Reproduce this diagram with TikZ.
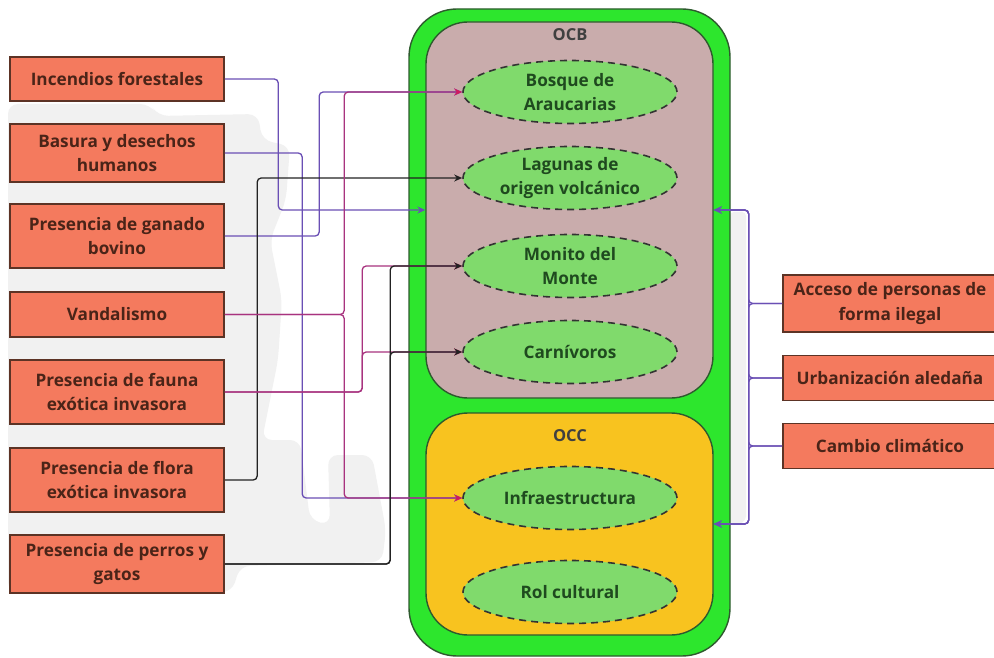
\documentclass[tikz,border=0pt]{standalone}
\usepackage{fontspec}
\setmainfont{Open Sans}
\usetikzlibrary{shapes.geometric,arrows.meta}

\definecolor{outergreen}{HTML}{2DE62D}
\definecolor{framestroke}{HTML}{2E5A2E}
\definecolor{ocbfill}{HTML}{C9ACAC}
\definecolor{occfill}{HTML}{F8C31F}
\definecolor{ovalfill}{HTML}{80DA6C}
\definecolor{ovaltext}{HTML}{1F4A1F}
\definecolor{threatfill}{HTML}{F47A5E}
\definecolor{threatline}{HTML}{5C3325}
\definecolor{threattext}{HTML}{4A2418}
\definecolor{linkpurple}{HTML}{6A4FB5}
\definecolor{linkmagenta}{HTML}{A8337F}
\definecolor{tipmagenta}{HTML}{D01A5E}
\definecolor{linkblack}{HTML}{222222}
\definecolor{bgshade}{HTML}{F1F1F1}

\tikzset{
  threat/.style={draw=threatline, line width=1.6pt, fill=threatfill,
    text=threattext, font=\fontsize{17.2}{24.5}\selectfont\bfseries,
    align=center, minimum width=214pt, inner sep=0pt},
  oval/.style={ellipse, draw=black!80, dashed, dash pattern=on 7pt off 5pt,
    line width=1.6pt, fill=ovalfill, text=ovaltext,
    font=\fontsize{17.2}{24}\selectfont\bfseries, align=center,
    minimum width=214pt, minimum height=63pt, inner sep=0pt},
  zone/.style={draw=framestroke, line width=1.4pt, inner sep=0pt},
  zonetitle/.style={text=black!75, font=\fontsize{16.5}{18}\selectfont\bfseries},
  link/.style={line width=1.3pt, rounded corners=4pt},
  plink/.style={link, draw=linkpurple, -{Stealth[length=8pt,width=7pt]}},
  mlink/.style={link, draw=linkmagenta, -{Stealth[length=8pt,width=7pt,color=tipmagenta]}},
  klink/.style={link, draw=linkblack, -{Stealth[length=8pt,width=7pt]}}
}

\begin{document}
\begin{tikzpicture}[x=1pt,y=-1pt]
\useasboundingbox (0,0) rectangle (994,658);
\fill[white] (0,0) rectangle (994,658);

% faint grey backdrop shape
\fill[bgshade, rounded corners=10pt]
  (8,104) -- (150,104) -- (158,116) -- (258,114) -- (262,140)
  -- (290,146) -- (286,200) -- (270,240) -- (282,300) -- (278,360)
  -- (262,440) -- (300,440) -- (310,520) -- (330,525) -- (328,455)
  -- (372,455) -- (386,530) -- (382,562) -- (240,566) -- (232,592)
  -- (8,592) -- cycle;
\fill[bgshade, rounded corners=4pt] (730,212) -- (746,212) -- (746,520) -- (738,525) -- (730,525) -- cycle;

% containers
\node[zone, fill=outergreen, rounded corners=48pt,
      minimum width=321pt, minimum height=647pt] (frame) at (569.5,332.5) {};
\node[zone, fill=ocbfill, rounded corners=42pt,
      minimum width=287pt, minimum height=376pt] (ocb) at (569.5,210) {};
\node[zone, fill=occfill, rounded corners=42pt,
      minimum width=287pt, minimum height=222pt] (occ) at (569.5,524) {};
\node[zonetitle] (ocbtitle) at (570,35) {OCB};
\node[zonetitle] (occtitle) at (570,436) {OCC};

% conservation targets
\node[oval] (bosque) at (570,92) {Bosque de\\Araucarias};
\node[oval] (lagunas) at (570,178) {Lagunas de\\origen volcánico};
\node[oval] (monito) at (570,266) {Monito del\\Monte};
\node[oval] (carn) at (570,352) {Carnívoros};
\node[oval] (infra) at (570,498) {Infraestructura};
\node[oval] (rol) at (570,592) {Rol cultural};

% threats, left column
\node[threat, minimum height=44pt] (fire) at (117,79) {Incendios forestales};
\node[threat, minimum height=58pt] (trash) at (117,153) {Basura y desechos\\humanos};
\node[threat, minimum height=64pt] (cattle) at (117,236) {Presencia de ganado\\bovino};
\node[threat, minimum height=45pt] (vand) at (117,314.5) {Vandalismo};
\node[threat, minimum height=64pt] (fauna) at (117,392) {Presencia de fauna\\exótica invasora};
\node[threat, minimum height=64pt] (flora) at (117,480) {Presencia de flora\\exótica invasora};
\node[threat, minimum height=58pt] (pets) at (117,564) {Presencia de perros y\\gatos};

% threats, right column
\node[threat, minimum height=57pt] (acceso) at (890,303.5) {Acceso de personas de\\forma ilegal};
\node[threat, minimum height=45pt] (urban) at (890,378) {Urbanización aledaña};
\node[threat, minimum height=45pt] (clima) at (890,446) {Cambio climático};

% links from the left column
\draw[plink] (fire.east) -| ([xshift=-147pt]ocb.west) -- (ocb.west);
\draw[plink] (trash.east) -| ([xshift=-160pt]infra.west) -- (infra.west);
\draw[plink] (cattle.east) -| ([xshift=-143pt]bosque.west) -- (bosque.west);
\draw[klink] (flora.east) -| ([xshift=-205pt]lagunas.west) -- (lagunas.west);
\draw[mlink] (vand.east) -| ([xshift=-118pt]bosque.west) -- (bosque.west);
\draw[mlink] (vand.east) -| ([xshift=-118pt]infra.west) -- (infra.west);
\draw[mlink] (fauna.east) -| ([xshift=-100pt]monito.west) -- (monito.west);
\draw[mlink] (fauna.east) -| ([xshift=-100pt]carn.west) -- (carn.west);
\draw[klink] (pets.east) -| ([xshift=-72pt]monito.west) -- (monito.west);
\draw[klink] (pets.east) -| ([xshift=-72pt]carn.west) -- (carn.west);

% links from the right column
\foreach \src in {acceso,urban,clima}{
  \draw[plink] (\src.west) -| ([xshift=35pt]ocb.east) -- (ocb.east);
  \draw[plink] (\src.west) -| ([xshift=35pt]occ.east) -- (occ.east);
}
\end{tikzpicture}
\end{document}
